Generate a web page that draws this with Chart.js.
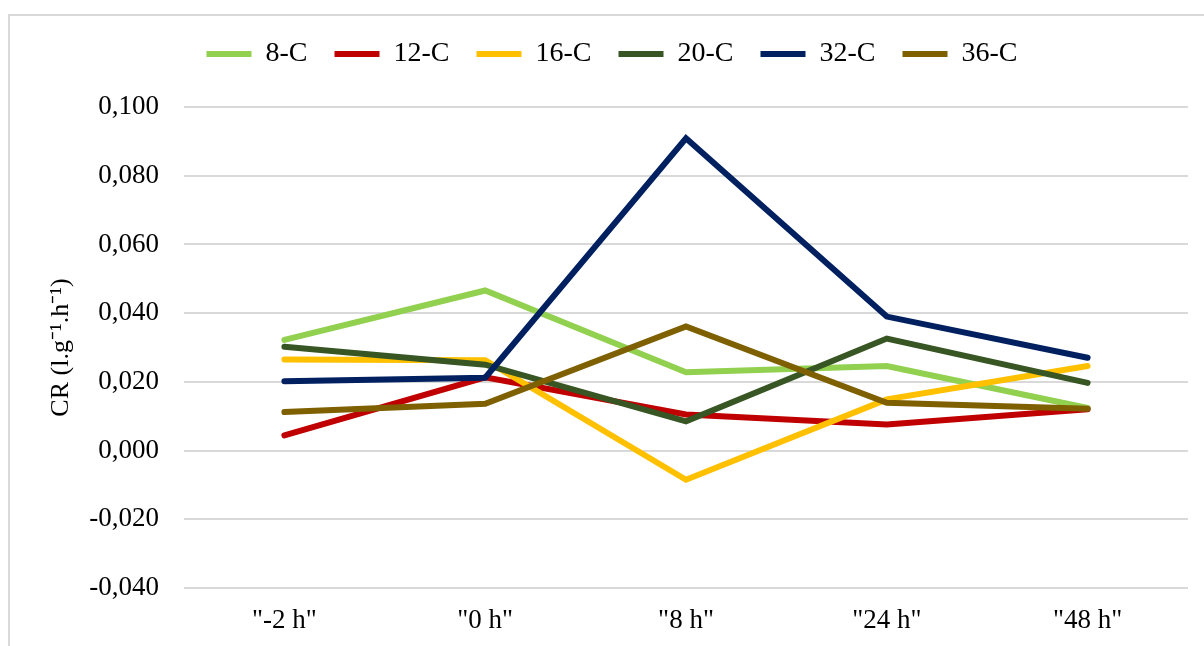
<!DOCTYPE html>
<html>
<head>
<meta charset="utf-8">
<script src="https://cdn.jsdelivr.net/npm/chart.js@4/dist/chart.umd.min.js"></script>
<style>
  html, body { margin: 0; padding: 0; background: #fff; overflow: hidden; }
  #frame {
    position: absolute; left: 8px; top: 14px;
    width: 1220px; height: 660px;
    border: 2px solid #d9d9d9; box-sizing: border-box;
  }
  #cv { position: absolute; left: 0; top: 0; }
</style>
</head>
<body>
<div id="frame"></div>
<canvas id="cv" width="1204" height="646"></canvas>
<script>
// data
const categories = ['"-2 h"', '"0 h"', '"8 h"', '"24 h"', '"48 h"'];
const seriesNames = ["8-C", "12-C", "16-C", "20-C", "32-C", "36-C"];
const c8 = [0.0322, 0.0466, 0.0228, 0.0246, 0.0124];
const c12 = [0.0044, 0.0213, 0.0105, 0.0076, 0.0120];
const c16 = [0.0265, 0.0263, -0.0085, 0.0149, 0.0246];
const c20 = [0.0302, 0.0250, 0.0085, 0.0326, 0.0197];
const c32 = [0.0202, 0.0212, 0.0909, 0.0390, 0.0270];
const c36 = [0.0112, 0.0136, 0.0361, 0.0139, 0.0122];
const yTicks = [-0.04, -0.02, 0, 0.02, 0.04, 0.06, 0.08, 0.1];

const seriesValues = [c8, c12, c16, c20, c32, c36];
const colors = ["#92D050", "#C00000", "#FFC000", "#375623", "#002060", "#7F6000"];

Chart.defaults.font.family = "'Liberation Serif', 'Times New Roman', serif";
Chart.defaults.color = "#000";

// legend: fixed height so the plot starts where the reference does,
// and nudged right to sit where the reference legend is
const legendFix = {
    id: "legendFix",
    beforeInit(chart) {
        const fit = chart.legend.fit;
        chart.legend.fit = function () {
            fit.call(this);
            this.height = 94;
        };
    },
    afterLayout(chart) {
        chart.legend.left += 18;
        chart.legend.right += 18;
    }
};

const datasets = seriesNames.map((name, i) => ({
    label: name,
    data: seriesValues[i],
    borderColor: colors[i],
    backgroundColor: colors[i],
    borderWidth: 6,
    borderCapStyle: "round",
    pointRadius: 0,
    pointHoverRadius: 0,
    tension: 0,
    order: seriesNames.length - i   // later series on top, like Excel
}));

new Chart(document.getElementById("cv"), {
    type: "line",
    data: { labels: categories, datasets: datasets },
    options: {
        responsive: false,
        animation: false,
        layout: { padding: { top: 13, right: 16, bottom: 0, left: 0 } },
        plugins: {
            legend: {
                position: "top",
                labels: {
                    usePointStyle: true,
                    pointStyle: "line",
                    pointStyleWidth: 45,
                    padding: 27,
                    font: { size: 28 },
                    sort: (a, b) => a.datasetIndex - b.datasetIndex
                }
            },
            tooltip: { enabled: false }
        },
        scales: {
            x: {
                offset: true,
                grid: { display: false },
                border: { display: false },
                ticks: { font: { size: 27 }, padding: 9 },
                afterFit(scale) { scale.height = 58; }
            },
            y: {
                min: -0.04,
                max: 0.1,
                afterBuildTicks(scale) {
                    scale.ticks = yTicks.map(v => ({ value: v }));
                },
                grid: { color: "#d9d9d9", lineWidth: 2, drawTicks: false },
                border: { display: false },
                ticks: {
                    font: { size: 27 },
                    padding: 25,
                    callback: v => v.toFixed(3).replace(".", ",")
                },
                title: {
                    display: true,
                    text: "CR (l.g⁻¹.h⁻¹)",
                    font: { size: 26 },
                    padding: { top: 46, bottom: 0 }
                },
                afterFit(scale) { scale.width = 184; }
            }
        }
    },
    plugins: [legendFix]
});
</script>
</body>
</html>
